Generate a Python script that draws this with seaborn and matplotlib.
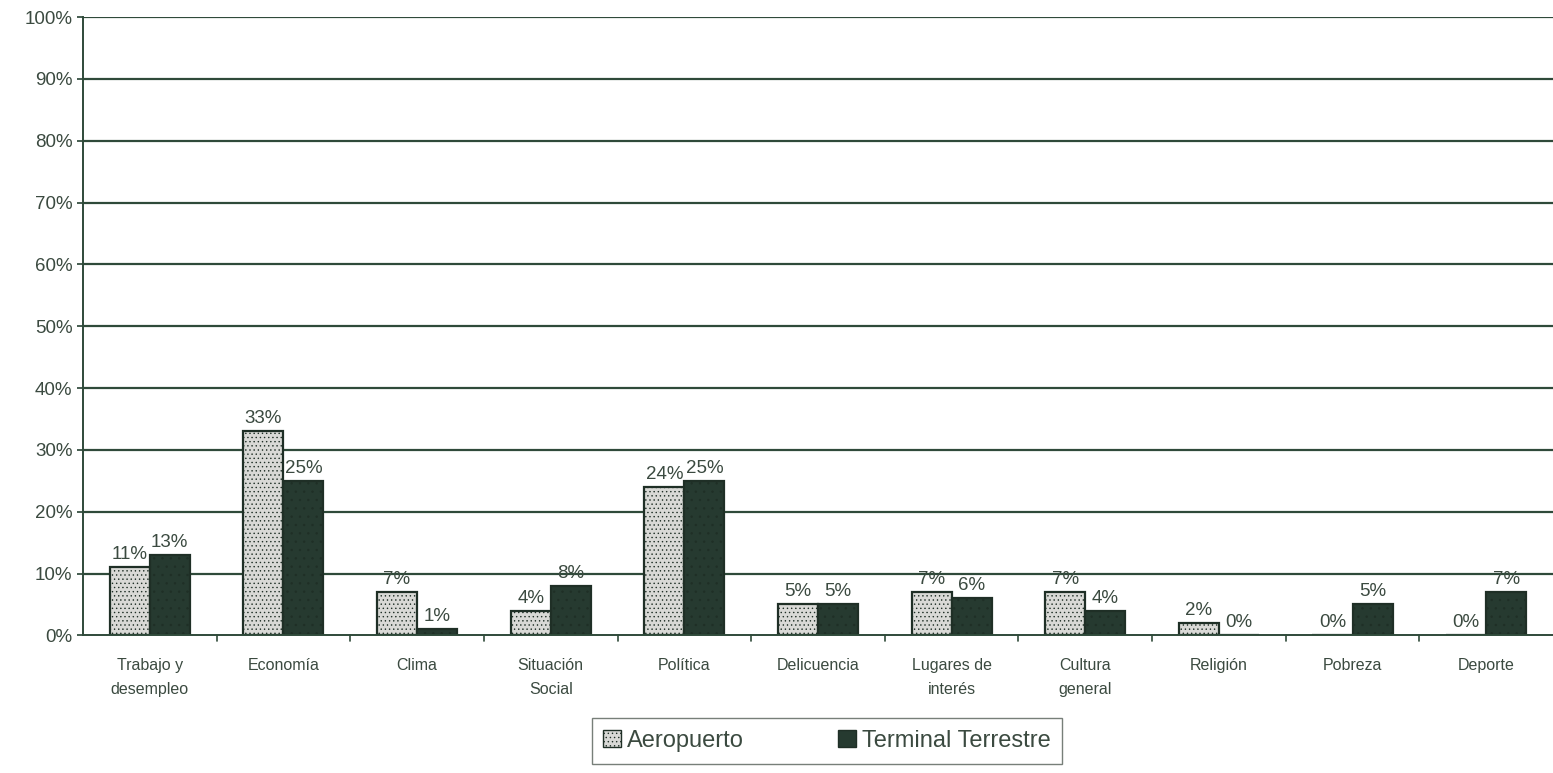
import matplotlib
matplotlib.use("Agg")
import matplotlib.pyplot as plt
from matplotlib.ticker import PercentFormatter
import pandas as pd
import seaborn as sns

categories = ["Trabajo y\ndesempleo", "Economía", "Clima", "Situación\nSocial", "Política",
              "Delicuencia", "Lugares de\ninterés", "Cultura\ngeneral", "Religión", "Pobreza", "Deporte"]
aeropuerto = [11, 33, 7, 4, 24, 5, 7, 7, 2, 0, 0]
terminal = [13, 25, 1, 8, 25, 5, 6, 4, 0, 5, 7]
series_names = ["Aeropuerto", "Terminal Terrestre"]
y_ticks = [0, 10, 20, 30, 40, 50, 60, 70, 80, 90, 100]

df = pd.DataFrame({
    "categoria": categories * 2,
    "serie": [series_names[0]] * len(categories) + [series_names[1]] * len(categories),
    "valor": aeropuerto + terminal,
})

sns.set_theme(style="white")
plt.rcParams["font.family"] = ["Liberation Sans", "DejaVu Sans"]
plt.rcParams["hatch.color"] = "#8a8f8a"
plt.rcParams["hatch.linewidth"] = 0.5

text_col = "#3b4a40"
grid_col = "#2f4a3a"
light = "#d9d9d6"
dark = "#263a30"

fig = plt.figure(figsize=(15.53, 7.73), dpi=100)
ax = fig.add_axes([0.0534, 0.178, 0.9466, 0.8])

sns.barplot(data=df, x="categoria", y="valor", hue="serie", order=categories,
            hue_order=series_names, palette=[light, dark], width=0.6,
            edgecolor="#1f2f26", linewidth=1.6, saturation=1, ax=ax, legend=False)

# stipple texture on the light series, faint grain on the dark one
n = len(categories)
for patch in ax.patches[:n]:
    patch.set_hatch("....")
for patch in ax.patches[n:2 * n]:
    patch.set_hatch("..")

for cont in ax.containers:
    ax.bar_label(cont, fmt="%d%%", padding=3, fontsize=13.5, color=text_col)

ax.set_ylim(0, 100)
ax.set_yticks(y_ticks)
ax.yaxis.set_major_formatter(PercentFormatter(decimals=0))
ax.set_xlim(-0.5, n - 0.5)
for y in y_ticks[1:]:
    ax.axhline(y, color=grid_col, linewidth=1.6, zorder=0)
ax.set_axisbelow(True)

ax.set_xlabel("")
ax.set_ylabel("")
ax.tick_params(axis="y", labelsize=13.5, labelcolor=text_col, length=4, color=grid_col, left=True)
ax.tick_params(axis="x", labelsize=11.5, labelcolor=text_col, length=0, pad=16)
for lbl in ax.get_xticklabels():
    lbl.set_linespacing(1.75)
for side in ["top", "right"]:
    ax.spines[side].set_visible(False)
ax.spines["left"].set_color(grid_col)
ax.spines["bottom"].set_color(grid_col)
ax.spines["left"].set_linewidth(1.4)
ax.spines["bottom"].set_linewidth(1.4)
for k in range(1, n):
    ax.plot([k - 0.5, k - 0.5], [0, -0.9], color=grid_col, lw=1.2, clip_on=False)

handles = [plt.Rectangle((0, 0), 1, 1, facecolor=light, edgecolor="#1f2f26", hatch="...."),
           plt.Rectangle((0, 0), 1, 1, facecolor=dark, edgecolor="#1f2f26")]
leg = fig.legend(handles, series_names, loc="lower center", bbox_to_anchor=(0.5325, -0.003),
                 ncol=2, frameon=True, fancybox=False, fontsize=17, handlelength=0.75,
                 handleheight=0.75, handletextpad=0.25, columnspacing=4.0, borderpad=0.5,
                 labelcolor=text_col)
leg.get_frame().set_edgecolor("#555f58")
leg.get_frame().set_linewidth(1.0)

fig.savefig("out.png", dpi=100, facecolor="white")
